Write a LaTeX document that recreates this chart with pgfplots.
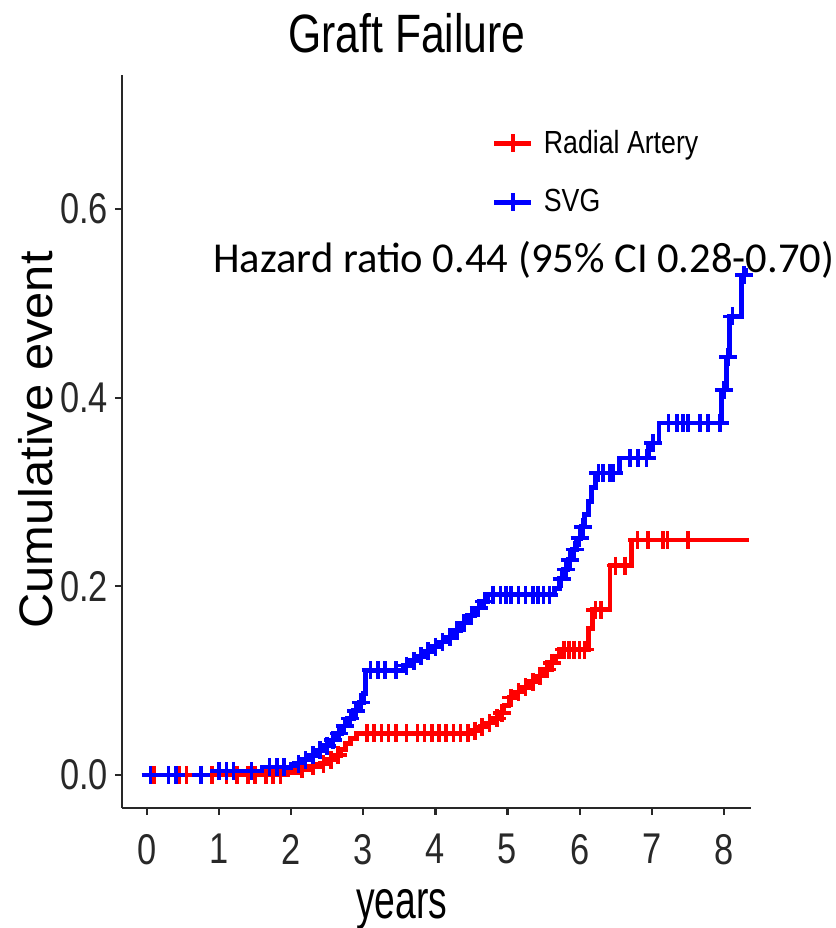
\documentclass[border=0pt]{standalone}
\usepackage{fontspec}
\usepackage{pgfplots}
\usepackage{pgfplotstable}
\pgfplotsset{compat=1.18}
\newfontfamily\tickf[FakeStretch=0.8]{Liberation Sans}
\newfontfamily\titlef[FakeStretch=0.79]{Liberation Sans}
\newfontfamily\xlabf[FakeStretch=0.69]{Liberation Sans}
\newfontfamily\ylabf[FakeStretch=1.04]{Liberation Sans}
\newfontfamily\legf[FakeStretch=0.835]{Liberation Sans}
\newfontfamily\hazf{Carlito}
\definecolor{axcol}{RGB}{40,40,40}

% Radial Artery: step curve
\pgfplotstableread{
x y
0 0
1.95 0.003
2.1 0.006
2.25 0.009
2.4 0.012
2.5 0.016
2.6 0.021
2.68 0.027
2.75 0.033
2.82 0.039
2.9 0.044
4.5 0.047
4.62 0.051
4.72 0.055
4.8 0.060
4.88 0.066
4.95 0.074
5.02 0.082
5.1 0.088
5.2 0.093
5.3 0.099
5.4 0.105
5.5 0.112
5.58 0.119
5.66 0.126
5.72 0.133
6.12 0.155
6.18 0.175
6.42 0.222
6.72 0.249
8.35 0.249
}\rastep
% Radial Artery: censor marks
\pgfplotstableread{
x y
0.1 0
0.45 0
0.55 0
0.75 0
0.9 0
1.1 0
1.25 0
1.4 0
1.5 0
1.65 0
1.75 0
1.85 0
2.15 0.006
2.3 0.009
2.45 0.012
2.55 0.016
2.65 0.021
3.05 0.044
3.15 0.044
3.25 0.044
3.35 0.044
3.45 0.044
3.6 0.044
3.75 0.044
3.85 0.044
3.95 0.044
4.05 0.044
4.15 0.044
4.25 0.044
4.35 0.044
4.45 0.044
4.55 0.047
4.65 0.051
4.75 0.055
4.85 0.060
4.92 0.066
5.05 0.082
5.15 0.088
5.25 0.093
5.35 0.099
5.45 0.105
5.55 0.112
5.62 0.119
5.78 0.133
5.85 0.133
5.92 0.133
6.0 0.133
6.07 0.133
6.22 0.175
6.3 0.175
6.5 0.222
6.63 0.222
6.8 0.249
6.95 0.249
7.16 0.249
7.22 0.249
7.5 0.249
}\racens
% SVG: step curve
\pgfplotstableread{
x y
0 0
0.95 0.004
1.6 0.008
2.05 0.012
2.15 0.016
2.25 0.021
2.35 0.026
2.45 0.031
2.55 0.037
2.62 0.044
2.7 0.052
2.78 0.060
2.86 0.068
2.94 0.077
3.0 0.086
3.03 0.111
3.55 0.116
3.65 0.121
3.75 0.126
3.85 0.131
3.95 0.136
4.05 0.141
4.15 0.146
4.25 0.153
4.35 0.161
4.45 0.169
4.55 0.177
4.63 0.184
4.72 0.191
5.65 0.198
5.72 0.208
5.78 0.218
5.84 0.228
5.9 0.239
5.96 0.251
6.02 0.263
6.07 0.276
6.12 0.290
6.16 0.305
6.22 0.320
6.55 0.336
6.95 0.352
7.1 0.373
7.97 0.408
8.04 0.443
8.08 0.486
8.25 0.530
8.3 0.537
}\svgstep
% SVG: censor marks
\pgfplotstableread{
x y
0.05 0
0.3 0
0.4 0
0.75 0
1.0 0.004
1.1 0.004
1.2 0.004
1.45 0.004
1.7 0.008
1.8 0.008
1.9 0.008
2.1 0.012
2.2 0.016
2.3 0.021
2.4 0.026
2.5 0.031
2.58 0.037
2.66 0.044
2.74 0.052
2.82 0.060
2.9 0.068
2.97 0.077
3.1 0.111
3.2 0.111
3.3 0.111
3.45 0.111
3.6 0.116
3.7 0.121
3.8 0.126
3.9 0.131
4.0 0.136
4.1 0.141
4.2 0.146
4.3 0.153
4.4 0.161
4.5 0.169
4.6 0.177
4.68 0.184
4.8 0.191
4.9 0.191
4.98 0.191
5.05 0.191
5.15 0.191
5.25 0.191
5.35 0.191
5.42 0.191
5.5 0.191
5.58 0.191
5.75 0.208
5.81 0.218
5.87 0.228
5.93 0.239
6.0 0.251
6.05 0.263
6.26 0.320
6.32 0.320
6.42 0.320
6.47 0.320
6.7 0.336
6.81 0.336
6.93 0.336
7.02 0.352
7.23 0.373
7.35 0.373
7.43 0.373
7.5 0.373
7.67 0.373
7.78 0.373
7.95 0.373
8.0 0.408
8.06 0.443
8.12 0.486
8.28 0.530
}\svgcens

\begin{document}
\begin{tikzpicture}
\begin{axis}[
  scale only axis, width=314.5pt, height=366.5pt,
  xmin=-0.347, xmax=8.377, ymin=-0.035, ymax=0.742,
  axis x line*=bottom, axis y line*=left,
  axis line style={axcol, line width=1.3pt, -},
  tick style={axcol, line width=1.1pt},
  tick align=outside, major tick length=3.5pt,
  xtick={0,1,2,3,4,5,6,7,8}, ytick={0,0.2,0.4,0.6},
  yticklabel style={/pgf/number format/fixed, /pgf/number format/fixed zerofill, /pgf/number format/precision=1},
  xticklabel style={yshift=-6pt},
  /pgf/number format/assume math mode=true,
  ticklabel style={font=\tickf\fontsize{21.5}{25}\selectfont, text=axcol},
  title={Graft Failure},
  title style={font=\titlef\fontsize{27}{31}\selectfont, at={(0.453,1)}, anchor=base, yshift=5pt},
  xlabel={years},
  xlabel style={font=\xlabf\fontsize{27}{31}\selectfont, at={(axis description cs:0.445,0)}, anchor=base, yshift=-55pt},
  ylabel={Cumulative event},
  ylabel style={font=\ylabf\fontsize{23.5}{28}\selectfont, at={(axis description cs:-0.111,0.502)}, anchor=base},
  legend image code/.code={\draw[mark repeat=2,mark phase=2,#1] plot coordinates {(0pt,0pt)(9.25pt,0pt)(18.5pt,0pt)};},
  legend style={at={(axis cs:4.78,0.688)}, anchor=north west, draw=none, fill=none, inner sep=0pt, font=\legf\fontsize{16}{19}\selectfont, row sep=12.5pt, column sep=3pt},
  legend cell align=left,
  clip=false,
]
\coordinate (LL) at (rel axis cs:0,0);
\coordinate (UR) at (rel axis cs:1,1);
\addlegendimage{red, line width=2.4pt, mark=+, mark size=4.5pt, mark options={line width=1.8pt}}
\addlegendentry{Radial Artery}
\addlegendimage{blue, line width=2.4pt, mark=+, mark size=4.5pt, mark options={line width=1.8pt}}
\addlegendentry{SVG}
\addplot[red, line width=2.4pt, const plot, no marks, forget plot] table[x=x, y=y] {\rastep};
\addplot[red, only marks, mark=+, mark size=4.5pt, mark options={line width=1.8pt}, forget plot] table[x=x, y=y] {\racens};
\addplot[blue, line width=2.4pt, const plot, no marks, forget plot] table[x=x, y=y] {\svgstep};
\addplot[blue, only marks, mark=+, mark size=4.5pt, mark options={line width=1.8pt}, forget plot] table[x=x, y=y] {\svgcens};
\node[anchor=base west, inner sep=0pt, font=\hazf\fontsize{21.3}{25}\selectfont] at (axis cs:0.915,0.533) {Hazard ratio 0.44 (95\% CI 0.28-0.70)};
\end{axis}
\pgfresetboundingbox
\path[use as bounding box] ([shift={(-61pt,-60pt)}]LL) rectangle ([shift={(42pt,37.5pt)}]UR);
\end{tikzpicture}
\end{document}
